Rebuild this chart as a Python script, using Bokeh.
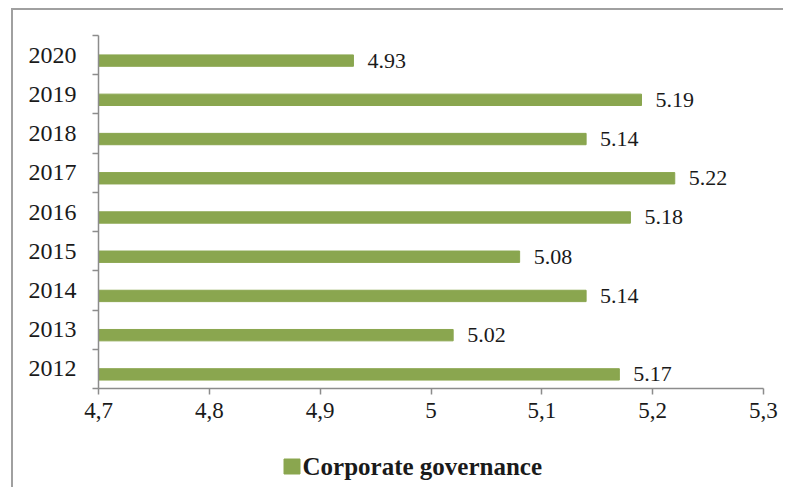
from bokeh.plotting import figure
from bokeh.layouts import column
from bokeh.models import Range1d, FixedTicker, ColumnDataSource
from bokeh.core.properties import value
from bokeh.embed import file_html
from bokeh.resources import INLINE

years = ["2012", "2013", "2014", "2015", "2016", "2017", "2018", "2019", "2020"]
scores = [5.17, 5.02, 5.14, 5.08, 5.18, 5.22, 5.14, 5.19, 4.93]
score_labels = ["5.17", "5.02", "5.14", "5.08", "5.18", "5.22", "5.14", "5.19", "4.93"]
x_ticks = [4.7, 4.8, 4.9, 5.0, 5.1, 5.2, 5.3]
x_tick_labels = ["4,7", "4,8", "4,9", "5", "5,1", "5,2", "5,3"]
series_name = "Corporate governance"

GREEN = "#8aa64f"
AXIS = "#8c8c8c"
FONT = "Liberation Serif"
W = 783
H_MAIN = 432
H_LEG = 55
FRAME_L, FRAME_R = 98, 763

n = len(years)
pos = [i + 0.36 for i in range(n)]
src = ColumnDataSource(dict(y=pos, right=scores, lab=score_labels))

p = figure(width=W, height=H_MAIN, output_backend="svg", toolbar_location=None,
           x_range=Range1d(4.6999, 5.3001), y_range=Range1d(0, n),
           min_border_left=FRAME_L, min_border_right=W - FRAME_R, min_border_top=35,
           min_border_bottom=H_MAIN - 388)
p.outline_line_color = None
p.xgrid.grid_line_color = None
p.ygrid.grid_line_color = None
p.border_fill_color = None
p.background_fill_color = None

bars = p.hbar(y="y", left=4.7, right="right", height=0.29, source=src,
              fill_color=GREEN, line_color=GREEN)
p.text(x="right", y="y", text="lab", source=src, x_offset=14,
       text_baseline="middle", text_align="left", text_font=value(FONT),
       text_font_size="22px", text_color="#1a1a1a")

# x axis
xa = p.xaxis[0]
xa.ticker = FixedTicker(ticks=x_ticks)
xa.major_label_overrides = {t: l for t, l in zip(x_ticks, x_tick_labels)}
xa.major_label_text_font = FONT
xa.major_label_text_font_size = "23px"
xa.major_label_text_color = "#1a1a1a"
xa.axis_line_color = AXIS
xa.axis_line_width = 1.5
xa.major_tick_line_color = AXIS
xa.major_tick_line_width = 1.5
xa.major_tick_in = 0
xa.major_tick_out = 6
xa.minor_tick_line_color = None
xa.major_label_standoff = 8

# y axis
ya = p.yaxis[0]
ya.ticker = FixedTicker(ticks=[i + 0.5 for i in range(n)],
                        minor_ticks=list(range(n + 1)))
ya.major_label_overrides = {i + 0.5: y for i, y in enumerate(years)}
ya.major_label_text_font = FONT
ya.major_label_text_font_size = "24px"
ya.major_label_text_color = "#1a1a1a"
ya.axis_line_color = AXIS
ya.axis_line_width = 1.5
ya.major_tick_line_color = None
ya.major_tick_in = 0
ya.major_tick_out = 0
ya.minor_tick_line_color = AXIS
ya.minor_tick_line_width = 1.5
ya.minor_tick_in = 0
ya.minor_tick_out = 6
ya.major_label_standoff = 16

# legend strip (its frame is aligned with the main frame by the column layout)
leg = figure(width=W, height=H_LEG, output_backend="svg", toolbar_location=None,
             x_range=Range1d(FRAME_L, FRAME_R), y_range=Range1d(0, H_LEG),
             min_border=0, x_axis_type=None, y_axis_type=None)
leg.outline_line_color = None
leg.xgrid.grid_line_color = None
leg.ygrid.grid_line_color = None
leg.border_fill_color = None
leg.background_fill_color = None
leg_src = ColumnDataSource(dict(x=[291.5], tx=[302], y=[H_LEG - (466 - H_MAIN)],
                                lab=[series_name]))
leg.rect(x="x", y="y", width=16, height=15, width_units="screen",
         height_units="screen", source=leg_src, fill_color=GREEN, line_color=GREEN)
leg.text(x="tx", y="y", text="lab", source=leg_src, text_baseline="middle",
         text_align="left", text_font=value(FONT), text_font_size="25px",
         text_font_style="bold", text_color="#1a1a1a")

layout = column(p, leg, spacing=0)
layout.styles = {
    "background": ("linear-gradient(#a0a0a0, #a0a0a0) 11px 8px / 2px 100% no-repeat, "
                   "linear-gradient(#a0a0a0, #a0a0a0) 11px 8px / 100% 2px no-repeat, #ffffff"),
}

open("out.html", "w").write(file_html(layout, INLINE))
